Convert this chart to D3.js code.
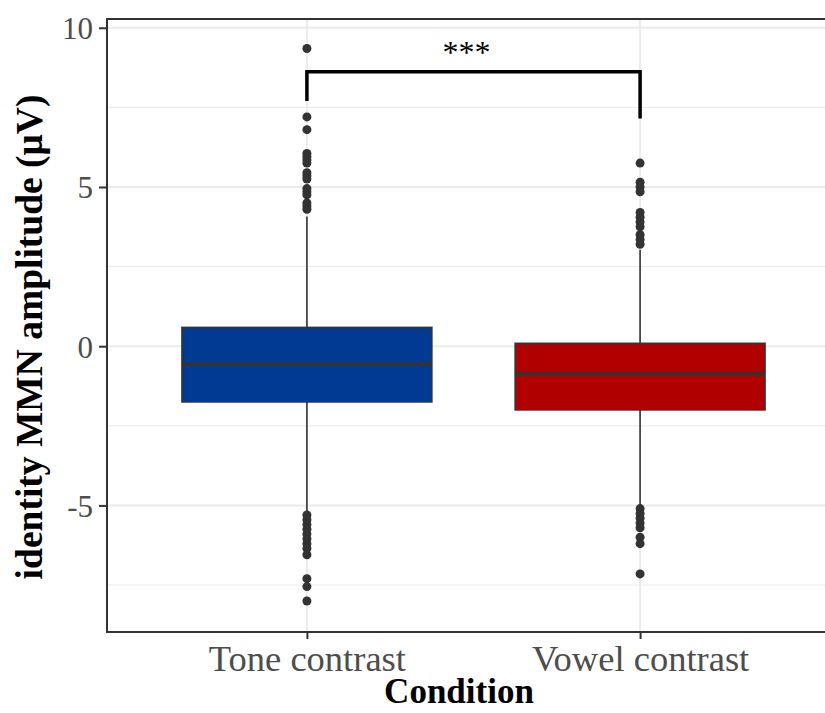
<!DOCTYPE html>
<html>
<head>
<meta charset="utf-8">
<script src="https://cdn.jsdelivr.net/npm/d3@7"></script>
<style>
  body { margin: 0; background: #fff; }
  text { font-family: "Liberation Serif", "Times New Roman", serif; }
</style>
</head>
<body>
<div id="container"></div>
<script>

// chart data
const conditions = ["Tone contrast", "Vowel contrast"];
const lowerWhisker = [-5.25, -5.03];
const q1 = [-1.75, -2.0];
const median = [-0.56, -0.84];
const q3 = [0.59, 0.09];
const upperWhisker = [4.07, 3.03];
const toneOutliers = [9.35, 7.2, 6.8, 6.05, 5.95, 5.85, 5.75, 5.45, 5.35, 5.25, 4.95, 4.85, 4.75, 4.5, 4.4, 4.3,
  -5.3, -5.45, -5.6, -5.75, -5.9, -6.05, -6.2, -6.35, -6.55, -7.3, -7.55, -8.0];
const vowelOutliers = [5.75, 5.15, 5.0, 4.85, 4.2, 4.05, 3.9, 3.75, 3.5, 3.35, 3.2,
  -5.1, -5.25, -5.4, -5.55, -5.7, -6.0, -6.2, -7.15];
const outliers = [toneOutliers, vowelOutliers];
const fills = ["#003A93", "#B00000"];
const yTicks = [-5, 0, 5, 10];
const yMinor = [-7.5, -2.5, 2.5, 7.5];
// significance bracket: top height, left tip, right tip
const bracket = { top: 8.62, leftTip: 7.7, rightTip: 7.15, label: "***" };

const width = 825;
const height = 713;
const panel = { left: 107, right: 840, top: 19, bottom: 632 };

const svg = d3.create("svg")
    .attr("width", width)
    .attr("height", height);

const x = d3.scalePoint()
    .domain(conditions)
    .range([panel.left, panel.right])
    .padding(0.6);

const y = d3.scaleLinear()
    .domain([-8.975, 10.275])
    .range([panel.bottom, panel.top]);

const boxW = x.step() * 0.75;

// grid
const grid = svg.append("g");
grid.selectAll(".minor")
  .data(yMinor)
  .enter().append("line")
  .attr("x1", panel.left).attr("x2", panel.right)
  .attr("y1", d => y(d)).attr("y2", d => y(d))
  .attr("stroke", "#EBEBEB").attr("stroke-width", 1);
grid.selectAll(".major")
  .data(yTicks)
  .enter().append("line")
  .attr("x1", panel.left).attr("x2", panel.right)
  .attr("y1", d => y(d)).attr("y2", d => y(d))
  .attr("stroke", "#EBEBEB").attr("stroke-width", 2);
grid.selectAll(".vert")
  .data(conditions)
  .enter().append("line")
  .attr("x1", d => x(d)).attr("x2", d => x(d))
  .attr("y1", panel.top).attr("y2", panel.bottom)
  .attr("stroke", "#EBEBEB").attr("stroke-width", 2);

// boxes
const boxes = svg.append("g")
  .selectAll("g")
  .data(conditions)
  .enter().append("g");

boxes.append("line")
  .attr("x1", d => x(d)).attr("x2", d => x(d))
  .attr("y1", (d, i) => y(upperWhisker[i]))
  .attr("y2", (d, i) => y(lowerWhisker[i]))
  .attr("stroke", "#333").attr("stroke-width", 1.6);

boxes.append("rect")
  .attr("x", d => x(d) - boxW / 2)
  .attr("width", boxW)
  .attr("y", (d, i) => y(q3[i]))
  .attr("height", (d, i) => y(q1[i]) - y(q3[i]))
  .attr("fill", (d, i) => fills[i])
  .attr("stroke", "#333").attr("stroke-width", 1.6);

boxes.append("line")
  .attr("x1", d => x(d) - boxW / 2).attr("x2", d => x(d) + boxW / 2)
  .attr("y1", (d, i) => y(median[i])).attr("y2", (d, i) => y(median[i]))
  .attr("stroke", "#333").attr("stroke-width", 3.5);

boxes.each(function(d, i) {
  d3.select(this).selectAll("circle")
    .data(outliers[i])
    .enter().append("circle")
    .attr("cx", x(d))
    .attr("cy", v => y(v))
    .attr("r", 4.5)
    .attr("fill", "#333");
});

// panel border
svg.append("rect")
  .attr("x", panel.left).attr("y", panel.top)
  .attr("width", panel.right - panel.left)
  .attr("height", panel.bottom - panel.top)
  .attr("fill", "none")
  .attr("stroke", "#333").attr("stroke-width", 2);

// axes
const yAxis = svg.append("g")
  .attr("transform", `translate(${panel.left},0)`)
  .call(d3.axisLeft(y).tickValues(yTicks).tickFormat(d => String(d)).tickSize(8).tickPadding(6));
const xAxis = svg.append("g")
  .attr("transform", `translate(0,${panel.bottom})`)
  .call(d3.axisBottom(x).tickSize(7).tickPadding(5));

[yAxis, xAxis].forEach(a => {
  a.select(".domain").remove();
  a.selectAll(".tick line").attr("stroke", "#333").attr("stroke-width", 2);
  a.selectAll(".tick text")
    .attr("fill", "#4D4D4D")
    .style("font-family", "'Liberation Serif', 'Times New Roman', serif");
});
xAxis.selectAll(".tick text").style("font-size", "36.5px").attr("dy", "0.74em");
yAxis.selectAll(".tick text").style("font-size", "31px").attr("dy", "0.35em");

// axis titles
svg.append("text")
  .attr("x", 459)
  .attr("y", 703)
  .attr("text-anchor", "middle")
  .attr("font-weight", "bold")
  .attr("font-size", 35)
  .text("Condition");

svg.append("text")
  .attr("transform", `translate(42,${337}) rotate(-90)`)
  .attr("text-anchor", "middle")
  .attr("font-weight", "bold")
  .attr("font-size", 37.5)
  .text("identity MMN amplitude (μV)");

// significance bracket
const [c0, c1] = conditions;
svg.append("path")
  .attr("d", `M${x(c0)},${y(bracket.leftTip)} V${y(bracket.top)} H${x(c1)} V${y(bracket.rightTip)}`)
  .attr("fill", "none")
  .attr("stroke", "#000")
  .attr("stroke-width", 3.5);

svg.append("text")
  .attr("x", (x(c0) + x(c1)) / 2 - 7)
  .attr("y", y(bracket.top) - 9)
  .attr("text-anchor", "middle")
  .attr("font-size", 32)
  .text(bracket.label);

container.append(svg.node());

</script>
</body>
</html>
